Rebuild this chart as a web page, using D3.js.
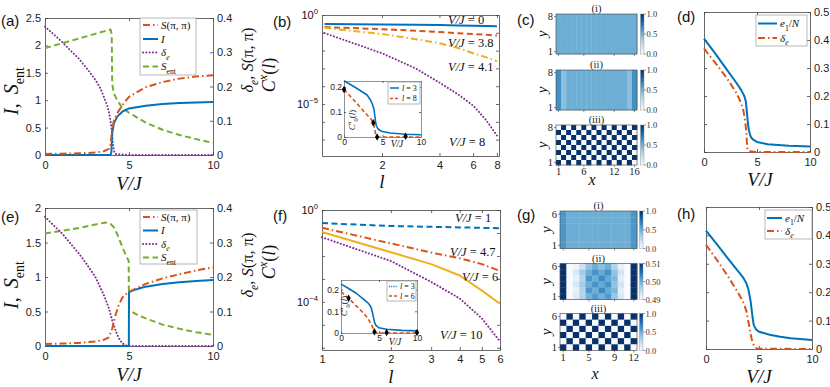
<!DOCTYPE html>
<html>
<head>
<meta charset="utf-8">
<script src="https://cdn.jsdelivr.net/npm/d3@7"></script>
<style>
  body { margin: 0; background: #fff; }
  svg { display: block; }
</style>
</head>
<body>
<svg id="fig" width="830" height="387"></svg>
<script>
(function figureModule() {

  'use strict';

  // ---- data: panel (a), U-type, 8x16 ----
  var aVS = [0, 1, 2, 3, 3.5, 3.8, 3.9, 4.0, 4.1, 4.3, 4.6, 5, 6, 7, 8, 9, 10];
  var aS = [0.003, 0.004, 0.005, 0.007, 0.011, 0.018, 0.03, 0.075, 0.1, 0.122, 0.145, 0.17, 0.198, 0.213, 0.223, 0.229, 0.233];
  var aVI = [0, 3.9, 3.95, 4.0, 4.1, 4.3, 4.6, 5, 6, 7, 8, 9, 10];
  var aI = [0, 0, 0.05, 0.4, 0.58, 0.7, 0.79, 0.85, 0.9, 0.93, 0.95, 0.96, 0.965];
  var aVD = [0, 0.5, 1, 1.5, 2, 2.5, 3, 3.3, 3.5, 3.7, 3.8, 3.9, 4.0, 4.05, 4.1, 4.2, 5, 10];
  var aD = [0.375, 0.353, 0.331, 0.306, 0.282, 0.252, 0.219, 0.195, 0.17, 0.145, 0.126, 0.1, 0.064, 0.03, 0.012, 0.003, 0, 0];
  var aVE = [0, 3.9, 3.97, 4.0, 4.1, 4.3, 4.6, 5, 6, 7, 8, 9, 10];
  var aE = [1.95, 2.29, 2.2, 1.3, 1.12, 1.0, 0.86, 0.77, 0.59, 0.46, 0.365, 0.29, 0.22];

  // ---- data: panel (e) ----
  var eVS = [0, 1, 2, 3, 3.5, 3.8, 4.0, 4.2, 4.4, 4.6, 4.8, 5, 6, 7, 8, 9, 10];
  var eS = [0.006, 0.007, 0.009, 0.013, 0.018, 0.025, 0.05, 0.09, 0.12, 0.14, 0.15, 0.157, 0.18, 0.196, 0.208, 0.219, 0.228];
  var eVI = [0, 4.99, 5.0, 5.3, 5.7, 6, 7, 8, 9, 10];
  var eI = [0, 0, 0.78, 0.81, 0.84, 0.86, 0.9, 0.925, 0.942, 0.955];
  var eVD = [0, 0.5, 1, 1.5, 2, 2.5, 3, 3.5, 3.8, 4.0, 4.2, 4.4, 4.6, 4.8, 5, 10];
  var eD = [0.375, 0.35, 0.327, 0.298, 0.269, 0.236, 0.2, 0.148, 0.11, 0.075, 0.045, 0.022, 0.008, 0.002, 0, 0];
  var eVE = [0, 1, 2, 3, 3.6, 3.9, 4.1, 4.3, 4.5, 4.7, 4.9, 4.98, 5.0, 5.5, 6, 7, 8, 9, 10];
  var eE = [1.63, 1.67, 1.71, 1.76, 1.79, 1.77, 1.72, 1.62, 1.5, 1.38, 1.27, 1.24, 0.52, 0.45, 0.4, 0.31, 0.25, 0.2, 0.16];

  // ---- data: panels (d), (h) ----
  var dVE = [0, 1, 2, 3, 3.5, 3.8, 3.95, 4.05, 4.15, 4.25, 4.4, 4.6, 5, 6, 7, 8, 10];
  var dE = [0.405, 0.355, 0.302, 0.25, 0.222, 0.2, 0.18, 0.14, 0.1, 0.075, 0.055, 0.045, 0.036, 0.028, 0.025, 0.022, 0.02];
  var dVD = [0, 0.5, 1, 1.5, 2, 2.5, 3, 3.3, 3.5, 3.7, 3.8, 3.9, 4.0, 4.05, 4.1, 4.2, 5, 10];
  var dD = [0.37, 0.345, 0.322, 0.297, 0.272, 0.244, 0.214, 0.192, 0.174, 0.15, 0.13, 0.105, 0.068, 0.032, 0.012, 0.003, 0, 0];
  var hVE = [0, 1, 2, 3, 3.5, 3.8, 4.0, 4.2, 4.3, 4.4, 4.5, 4.7, 5, 6, 7, 8, 10];
  var hE = [0.417, 0.37, 0.322, 0.275, 0.252, 0.232, 0.21, 0.17, 0.14, 0.11, 0.085, 0.07, 0.061, 0.05, 0.043, 0.038, 0.032];
  var hVD = [0, 1, 2, 3, 3.5, 3.8, 4.0, 4.2, 4.3, 4.4, 4.6, 4.8, 5, 10];
  var hD = [0.367, 0.315, 0.26, 0.2, 0.166, 0.135, 0.096, 0.055, 0.037, 0.022, 0.008, 0.002, 0.001, 0];

  // ---- data: panels (b), (f) correlations vs l ----
  var lB = [1, 2, 3, 4, 5, 6, 7, 8];
  var bV0 = [0.31, 0.29, 0.28, 0.27, 0.26, 0.25, 0.24, 0.23];
  var bV38 = [0.21, 0.16, 0.13, 0.11, 0.095, 0.085, 0.077, 0.07];
  var bV41 = [0.19, 0.085, 0.044, 0.026, 0.014, 0.0071, 0.0043, 0.0025];
  var bV8 = [0.096, 0.0071, 0.001, 1.6e-4, 3.5e-5, 8.3e-6, 1.3e-6, 1.7e-7];
  var lF = [1, 2, 3, 4, 5, 6];
  var fV1 = [0.27, 0.2, 0.185, 0.175, 0.167, 0.16];
  var fV47 = [0.17, 0.035, 0.014, 0.0079, 0.0044, 0.0022];
  var fV6 = [0.11, 0.0145, 0.0044, 0.0014, 3.1e-4, 8.3e-5];
  var fV10 = [0.065, 0.006, 7.4e-4, 1.4e-4, 1.9e-5, 1.9e-6];

  // insets
  var ibV1 = [0, 1, 2, 3, 3.5, 3.7, 3.9, 4.0, 4.1, 4.2, 4.4, 4.7, 5, 6, 8, 10];
  var ibL3 = [0.225, 0.207, 0.188, 0.168, 0.145, 0.13, 0.11, 0.085, 0.06, 0.045, 0.033, 0.026, 0.022, 0.016, 0.011, 0.009];
  var ibV2 = [0, 1, 2, 3, 3.5, 3.8, 4.0, 4.1, 4.2, 4.4, 10];
  var ibL8 = [0.19, 0.157, 0.123, 0.088, 0.072, 0.057, 0.03, 0.012, 0.003, 0, 0];
  var ibMV = [0, 3.8, 4.3, 8];
  var ibMC = [0.19, 0.057, 0, 0.003];
  var ifV1 = [0, 1, 2, 3, 3.5, 3.8, 4.0, 4.2, 4.4, 4.6, 5, 6, 8, 10];
  var ifL3 = [0.225, 0.205, 0.183, 0.155, 0.14, 0.128, 0.113, 0.085, 0.05, 0.035, 0.024, 0.017, 0.012, 0.01];
  var ifV2 = [0, 1, 2, 3, 3.5, 4.0, 4.3, 4.5, 5, 10];
  var ifL6 = [0.19, 0.16, 0.125, 0.09, 0.07, 0.04, 0.015, 0.004, 0, 0];
  var ifMV = [1, 4.4, 6, 10];
  var ifMC = [0.16, 0.006, 0.002, 0.002];

  // ---- data: heatmaps, rows listed from top (largest y) to bottom ----
  var cMapI = [
    [0.5, 0.5, 0.5, 0.5, 0.5, 0.5, 0.5, 0.5, 0.5, 0.5, 0.5, 0.5, 0.5, 0.5, 0.5, 0.5],
    [0.5, 0.5, 0.5, 0.5, 0.5, 0.5, 0.5, 0.5, 0.5, 0.5, 0.5, 0.5, 0.5, 0.5, 0.5, 0.5],
    [0.5, 0.5, 0.5, 0.5, 0.5, 0.5, 0.5, 0.5, 0.5, 0.5, 0.5, 0.5, 0.5, 0.5, 0.5, 0.5],
    [0.5, 0.5, 0.5, 0.5, 0.5, 0.5, 0.5, 0.5, 0.5, 0.5, 0.5, 0.5, 0.5, 0.5, 0.5, 0.5],
    [0.5, 0.5, 0.5, 0.5, 0.5, 0.5, 0.5, 0.5, 0.5, 0.5, 0.5, 0.5, 0.5, 0.5, 0.5, 0.5],
    [0.5, 0.5, 0.5, 0.5, 0.5, 0.5, 0.5, 0.5, 0.5, 0.5, 0.5, 0.5, 0.5, 0.5, 0.5, 0.5],
    [0.5, 0.5, 0.5, 0.5, 0.5, 0.5, 0.5, 0.5, 0.5, 0.5, 0.5, 0.5, 0.5, 0.5, 0.5, 0.5],
    [0.5, 0.5, 0.5, 0.5, 0.5, 0.5, 0.5, 0.5, 0.5, 0.5, 0.5, 0.5, 0.5, 0.5, 0.5, 0.5]
  ];
  var cMapII = [
    [0.63, 0.42, 0.5, 0.5, 0.5, 0.5, 0.5, 0.5, 0.5, 0.5, 0.5, 0.5, 0.5, 0.5, 0.42, 0.63],
    [0.63, 0.42, 0.5, 0.5, 0.5, 0.5, 0.5, 0.5, 0.5, 0.5, 0.5, 0.5, 0.5, 0.5, 0.42, 0.63],
    [0.63, 0.42, 0.5, 0.5, 0.5, 0.5, 0.5, 0.5, 0.5, 0.5, 0.5, 0.5, 0.5, 0.5, 0.42, 0.63],
    [0.63, 0.42, 0.5, 0.5, 0.5, 0.5, 0.5, 0.5, 0.5, 0.5, 0.5, 0.5, 0.5, 0.5, 0.42, 0.63],
    [0.63, 0.42, 0.5, 0.5, 0.5, 0.5, 0.5, 0.5, 0.5, 0.5, 0.5, 0.5, 0.5, 0.5, 0.42, 0.63],
    [0.63, 0.42, 0.5, 0.5, 0.5, 0.5, 0.5, 0.5, 0.5, 0.5, 0.5, 0.5, 0.5, 0.5, 0.42, 0.63],
    [0.63, 0.42, 0.5, 0.5, 0.5, 0.5, 0.5, 0.5, 0.5, 0.5, 0.5, 0.5, 0.5, 0.5, 0.42, 0.63],
    [0.63, 0.42, 0.5, 0.5, 0.5, 0.5, 0.5, 0.5, 0.5, 0.5, 0.5, 0.5, 0.5, 0.5, 0.42, 0.63]
  ];
  var cMapIII = [
    [0, 1, 0, 1, 0, 1, 0, 1, 0, 1, 0, 1, 0, 1, 0, 1],
    [1, 0, 1, 0, 1, 0, 1, 0, 1, 0, 1, 0, 1, 0, 1, 0],
    [0, 1, 0, 1, 0, 1, 0, 1, 0, 1, 0, 1, 0, 1, 0, 1],
    [1, 0, 1, 0, 1, 0, 1, 0, 1, 0, 1, 0, 1, 0, 1, 0],
    [0, 1, 0, 1, 0, 1, 0, 1, 0, 1, 0, 1, 0, 1, 0, 1],
    [1, 0, 1, 0, 1, 0, 1, 0, 1, 0, 1, 0, 1, 0, 1, 0],
    [0, 1, 0, 1, 0, 1, 0, 1, 0, 1, 0, 1, 0, 1, 0, 1],
    [1, 0, 1, 0, 1, 0, 1, 0, 1, 0, 1, 0, 1, 0, 1, 0]
  ];
  var gMapI = [
    [0.6, 0.5, 0.5, 0.5, 0.5, 0.5, 0.5, 0.5, 0.5, 0.5, 0.5, 0.6],
    [0.6, 0.5, 0.5, 0.5, 0.5, 0.5, 0.5, 0.5, 0.5, 0.5, 0.5, 0.6],
    [0.6, 0.5, 0.5, 0.5, 0.5, 0.5, 0.5, 0.5, 0.5, 0.5, 0.5, 0.6],
    [0.6, 0.5, 0.5, 0.5, 0.5, 0.5, 0.5, 0.5, 0.5, 0.5, 0.5, 0.6],
    [0.6, 0.5, 0.5, 0.5, 0.5, 0.5, 0.5, 0.5, 0.5, 0.5, 0.5, 0.6],
    [0.6, 0.5, 0.5, 0.5, 0.5, 0.5, 0.5, 0.5, 0.5, 0.5, 0.5, 0.6]
  ];
  var gMapII = [
    [0.51, 0.49, 0.491, 0.494, 0.498, 0.5, 0.4984, 0.5, 0.496, 0.4916, 0.49, 0.51],
    [0.51, 0.49, 0.493, 0.497, 0.5, 0.5024, 0.5004, 0.5024, 0.498, 0.4936, 0.49, 0.51],
    [0.51, 0.49, 0.4916, 0.496, 0.502, 0.5, 0.503, 0.5004, 0.499, 0.492, 0.49, 0.51],
    [0.51, 0.49, 0.493, 0.497, 0.5, 0.5024, 0.5004, 0.5024, 0.498, 0.4936, 0.49, 0.51],
    [0.51, 0.49, 0.4916, 0.496, 0.502, 0.5, 0.503, 0.5004, 0.499, 0.492, 0.49, 0.51],
    [0.51, 0.49, 0.4924, 0.496, 0.4996, 0.5016, 0.4996, 0.5016, 0.4976, 0.493, 0.49, 0.51]
  ];
  var gMapIII = [
    [0, 1, 0, 1, 0, 1, 0, 1, 0, 1, 0, 1],
    [1, 0, 1, 0, 1, 0, 1, 0, 1, 0, 1, 0],
    [0, 1, 0, 1, 0, 1, 0, 1, 0, 1, 0, 1],
    [1, 0, 1, 0, 1, 0, 1, 0, 1, 0, 1, 0],
    [0, 1, 0, 1, 0, 1, 0, 1, 0, 1, 0, 1],
    [1, 0, 1, 0, 1, 0, 1, 0, 1, 0, 1, 0]
  ];

  // ---- styles ----
  var SANS = '"Liberation Sans", Arial, Helvetica, sans-serif';
  var SERIF = '"Liberation Serif", "DejaVu Serif", "Times New Roman", serif';
  var BLUE = '#0072BD', RED = '#D95319', YELLOW = '#EDB120', PURPLE = '#7E2F8E', GREEN = '#77AC30';
  var DASH = '6,3.5', DASHDOT = '7,3,1.5,3', DOT = '0.1,3.2';

  var svg = d3.select('#fig');

  // text with italic / sub / sup pieces
  function mtext(g, x, y, parts, fs, fam, anchor) {
    var t = g.append('text')
      .attr('x', x).attr('y', y)
      .attr('font-family', fam || SERIF)
      .attr('font-size', fs)
      .attr('text-anchor', anchor || 'start')
      .attr('fill', '#111');
    var shift = 0;
    parts.forEach(function (p) {
      var mode = p[1] || '';
      var s = t.append('tspan').text(p[0]);
      var target = mode.indexOf('sub') >= 0 ? fs * 0.3 : (mode.indexOf('sup') >= 0 ? -fs * 0.42 : 0);
      if (target !== shift) s.attr('dy', target - shift);
      shift = target;
      if (target !== 0) s.attr('font-size', fs * 0.7);
      if (mode.charAt(0) === 'i') s.attr('font-style', 'italic');
    });
    return t;
  }

  function vtext(g, x, y, parts, fs, fam) {
    var r = g.append('g').attr('transform', 'translate(' + x + ',' + y + ') rotate(-90)');
    return mtext(r, 0, 0, parts, fs, fam, 'middle');
  }

  function styleAxis(sel, fs, fam) {
    sel.attr('font-family', null).attr('font-size', null);
    sel.select('.domain').attr('stroke', '#444').attr('stroke-width', 0.8);
    sel.selectAll('.tick line').attr('stroke', '#444').attr('stroke-width', 0.8);
    sel.selectAll('.tick text').attr('font-family', fam || SANS).attr('font-size', fs).attr('fill', '#222');
  }

  function drawSeries(g, x, y, xs, ys, color, dash, width) {
    var line = d3.line()
      .x(function (d, i) { return x(xs[i]); })
      .y(function (d) { return y(d); });
    g.append('path')
      .datum(ys)
      .attr('d', line)
      .attr('fill', 'none')
      .attr('stroke', color)
      .attr('stroke-width', width || 2)
      .attr('stroke-dasharray', dash || null)
      .attr('stroke-linecap', dash === DOT ? 'round' : 'butt')
      .attr('stroke-linejoin', 'round');
  }

  function legend(g, box, rows, items, lx, fs) {
    g.append('rect')
      .attr('x', box[0]).attr('y', box[1])
      .attr('width', box[2] - box[0]).attr('height', box[3] - box[1])
      .attr('fill', '#fff').attr('stroke', '#999').attr('stroke-width', 0.7);
    items.forEach(function (it, i) {
      g.append('line')
        .attr('x1', lx[0]).attr('x2', lx[1]).attr('y1', rows[i]).attr('y2', rows[i])
        .attr('stroke', it.color).attr('stroke-width', it.width || 2)
        .attr('stroke-dasharray', it.dash || null)
        .attr('stroke-linecap', it.dash === DOT ? 'round' : 'butt');
      mtext(g, lx[1] + 3, rows[i] + fs * 0.35, it.label, fs);
    });
  }

  var fmt = d3.format('~g');

  function dualPanel(p) {
    var g = svg.append('g');
    var x = d3.scaleLinear().domain([0, 10]).range([p.L, p.R]);
    var yl = d3.scaleLinear().domain(p.ylDom).range([p.B, p.T]);
    var yr = d3.scaleLinear().domain(p.yrDom).range([p.B, p.T]);
    var axes = [
      [d3.axisBottom(x).tickValues([0, 5, 10]).tickFormat(fmt), 'translate(0,' + p.B + ')'],
      [d3.axisTop(x).tickValues([0, 5, 10]).tickFormat(''), 'translate(0,' + p.T + ')'],
      [d3.axisLeft(yl).tickValues(p.ylTicks).tickFormat(p.ylLabels ? fmt : ''), 'translate(' + p.L + ',0)'],
      [d3.axisRight(yr).tickValues(p.yrTicks).tickFormat(fmt), 'translate(' + p.R + ',0)']
    ];
    axes.forEach(function (a, i) {
      var s = g.append('g').attr('transform', a[1])
        .call(a[0].tickSizeInner(-3).tickSizeOuter(0).tickPadding(i === 0 ? 6 : 4));
      styleAxis(s, 11);
    });
    p.series.forEach(function (s) {
      drawSeries(g, x, s.right ? yr : yl, s.x, s.y, s.color, s.dash);
    });
    return g;
  }

  function logPanel(p) {
    var g = svg.append('g');
    var x = d3.scaleLog().domain(p.xDom).range([p.L, p.R]);
    var y = d3.scaleLog().domain(p.yDom).range([p.B, p.T]);
    var axes = [
      [d3.axisBottom(x).tickValues(p.xTicks).tickFormat(d3.format('d')), 'translate(0,' + p.B + ')'],
      [d3.axisTop(x).tickValues(p.xTicks).tickFormat(''), 'translate(0,' + p.T + ')'],
      [d3.axisLeft(y).tickValues(p.yTicks).tickFormat(''), 'translate(' + p.L + ',0)'],
      [d3.axisRight(y).tickValues(p.yTicks).tickFormat(''), 'translate(' + p.R + ',0)']
    ];
    axes.forEach(function (a) {
      var s = g.append('g').attr('transform', a[1])
        .call(a[0].tickSizeInner(-3).tickSizeOuter(0).tickPadding(5));
      styleAxis(s, 11);
    });
    p.yLabels.forEach(function (e) {
      mtext(g, p.L - 4, y(Math.pow(10, e)) + 4, [['10'], [String(e).replace('-', '\u2212'), 'sup']], 11, SANS, 'end');
    });
    p.series.forEach(function (s) {
      drawSeries(g, x, y, p.l, s.y, s.color, s.dash);
    });
    p.notes.forEach(function (n) {
      mtext(g, n[0], n[1], [['V/J', 'i'], [' = ' + n[2]]], 12.5);
    });
    return g;
  }

  function inset(p) {
    var g = svg.append('g');
    g.append('rect').attr('x', p.L).attr('y', p.T)
      .attr('width', p.R - p.L).attr('height', p.B - p.T).attr('fill', '#fff');
    var x = d3.scaleLinear().domain([0, 10]).range([p.L, p.R]);
    var y = d3.scaleLinear().domain([0, p.yMax]).range([p.B, p.T]);
    var axes = [
      [d3.axisBottom(x).tickValues([0, 5, 10]).tickFormat(fmt), 'translate(0,' + p.B + ')'],
      [d3.axisTop(x).tickValues([0, 5, 10]).tickFormat(''), 'translate(0,' + p.T + ')'],
      [d3.axisLeft(y).tickValues([0, 0.1, 0.2]).tickFormat(fmt), 'translate(' + p.L + ',0)'],
      [d3.axisRight(y).tickValues([0, 0.1, 0.2]).tickFormat(''), 'translate(' + p.R + ',0)']
    ];
    axes.forEach(function (a) {
      var s = g.append('g').attr('transform', a[1])
        .call(a[0].tickSizeInner(-2).tickSizeOuter(0).tickPadding(2));
      styleAxis(s, 8.5);
      s.select('.domain').attr('stroke', '#777');
    });
    p.series.forEach(function (s) {
      drawSeries(g, x, y, s.x, s.y, s.color, s.dash, 1.6);
    });
    g.selectAll('path.mk')
      .data(p.mV)
      .enter().append('path')
      .attr('class', 'mk')
      .attr('d', d3.symbol().type(d3.symbolDiamond).size(16))
      .attr('transform', function (d, i) { return 'translate(' + x(d) + ',' + y(p.mC[i]) + ')'; })
      .attr('fill', '#000');
    legend(g, p.legBox, p.legRows, p.legItems, p.legLine, 8);
    mtext(g, p.vjPos[0], p.vjPos[1], [['V/J', 'i']], 9.5, SERIF, 'middle');
    vtext(g, p.cPos[0], p.cPos[1], [['C', 'i'], ['x', 'isup'], ['0', 'sub'], ['('], ['l', 'i'], [')']], 9);
    return g;
  }

  // ---------- panels (a), (e) ----------
  var legA = [
    { color: RED, dash: DASHDOT, label: [['S', 'i'], ['(\u03C0, \u03C0)']] },
    { color: BLUE, label: [['I', 'i']] },
    { color: PURPLE, dash: DOT, label: [['\u03B4', 'i'], ['e', 'isub']] },
    { color: GREEN, dash: DASH, label: [['S', 'i'], ['ent', 'sub']] }
  ];

  var ga = dualPanel({
    L: 45, R: 213, T: 18, B: 155,
    ylDom: [0, 2.5], yrDom: [0, 0.4],
    ylTicks: [0, 0.5, 1, 1.5, 2, 2.5], yrTicks: [0, 0.1, 0.2, 0.3, 0.4], ylLabels: true,
    series: [
      { x: aVE, y: aE, color: GREEN, dash: DASH },
      { x: aVD, y: aD, color: PURPLE, dash: DOT, right: true },
      { x: aVI, y: aI, color: BLUE },
      { x: aVS, y: aS, color: RED, dash: DASHDOT, right: true }
    ]
  });
  legend(ga, [140, 18, 196, 75], [25, 39, 52.5, 66.5], legA, [143, 158], 11);

  var ge = dualPanel({
    L: 45, R: 213, T: 208, B: 346,
    ylDom: [0, 2], yrDom: [0, 0.4],
    ylTicks: [0, 0.5, 1, 1.5, 2], yrTicks: [0, 0.1, 0.2, 0.3, 0.4], ylLabels: true,
    series: [
      { x: eVE, y: eE, color: GREEN, dash: DASH },
      { x: eVD, y: eD, color: PURPLE, dash: DOT, right: true },
      { x: eVI, y: eI, color: BLUE },
      { x: eVS, y: eS, color: RED, dash: DASHDOT, right: true }
    ]
  });
  legend(ge, [140, 210, 197, 264], [217, 230.5, 244, 257.5], legA, [143, 158], 11);

  // ---------- panels (d), (h) ----------
  var legD = [
    { color: BLUE, label: [['e', 'i'], ['1', 'sub'], ['/'], ['N', 'i']] },
    { color: RED, dash: DASHDOT, label: [['\u03B4', 'i'], ['e', 'isub']] }
  ];
  var gd = dualPanel({
    L: 704, R: 810, T: 12, B: 152,
    ylDom: [0, 0.5], yrDom: [0, 0.5],
    ylTicks: [0, 0.1, 0.2, 0.3, 0.4, 0.5], yrTicks: [0, 0.1, 0.2, 0.3, 0.4, 0.5], ylLabels: false,
    series: [
      { x: dVD, y: dD, color: RED, dash: DASHDOT },
      { x: dVE, y: dE, color: BLUE }
    ]
  });
  legend(gd, [756, 15, 807, 46], [23.5, 38], legD, [758, 777], 11);

  var gh = dualPanel({
    L: 706, R: 812, T: 207, B: 349,
    ylDom: [0, 0.5], yrDom: [0, 0.5],
    ylTicks: [0, 0.1, 0.2, 0.3, 0.4, 0.5], yrTicks: [0, 0.1, 0.2, 0.3, 0.4, 0.5], ylLabels: false,
    series: [
      { x: hVD, y: hD, color: RED, dash: DASHDOT },
      { x: hVE, y: hE, color: BLUE }
    ]
  });
  legend(gh, [765, 210, 812, 239], [218, 231], legD, [767, 782], 11);

  // ---------- panels (b), (f) ----------
  logPanel({
    L: 322, R: 499, T: 15, B: 156,
    xDom: [0.97, 8.2], yDom: [1.2e-8, 1], xTicks: [2, 4, 6, 8],
    yTicks: [1e-7, 1e-6, 1e-5, 1e-4, 1e-3, 1e-2, 1e-1, 1], yLabels: [0, -5],
    l: lB,
    series: [
      { y: bV0, color: BLUE },
      { y: bV38, color: RED, dash: DASH },
      { y: bV41, color: YELLOW, dash: DASHDOT },
      { y: bV8, color: PURPLE, dash: DOT }
    ],
    notes: [[448, 24, '0'], [448, 47, '3.8'], [448, 71, '4.1'], [449, 146, '8']]
  });
  inset({
    L: 344, R: 421, T: 81, B: 137, yMax: 0.224,
    series: [
      { x: ibV1, y: ibL3, color: BLUE },
      { x: ibV2, y: ibL8, color: RED, dash: '4,2.5' }
    ],
    mV: ibMV, mC: ibMC,
    legBox: [388, 82, 420, 104], legRows: [88, 98.5], legLine: [390, 399],
    legItems: [
      { color: BLUE, width: 1.5, label: [['l', 'i'], [' = 3']] },
      { color: RED, width: 1.5, dash: '3,2', label: [['l', 'i'], [' = 8']] }
    ],
    vjPos: [397, 147], cPos: [355, 120]
  });

  logPanel({
    L: 322, R: 500, T: 210, B: 350,
    xDom: [1, 6], yDom: [8e-7, 1], xTicks: [1, 2, 3, 4, 5, 6],
    yTicks: [1e-6, 1e-5, 1e-4, 1e-3, 1e-2, 1e-1, 1], yLabels: [0, -4],
    l: lF,
    series: [
      { y: fV1, color: BLUE, dash: DASH },
      { y: fV47, color: RED, dash: DASHDOT },
      { y: fV6, color: YELLOW },
      { y: fV10, color: PURPLE, dash: DOT }
    ],
    notes: [[455, 222, '1'], [450, 256, '4.7'], [462, 281, '6'], [440, 339, '10']]
  });
  inset({
    L: 341, R: 417, T: 280, B: 333, yMax: 0.244,
    series: [
      { x: ifV1, y: ifL3, color: BLUE },
      { x: ifV2, y: ifL6, color: RED, dash: '4,2.5' }
    ],
    mV: ifMV, mC: ifMC,
    legBox: [387, 281, 416, 301], legRows: [286.5, 296], legLine: [389, 397],
    legItems: [
      { color: BLUE, width: 1.5, dash: '1,1.2', label: [['l', 'i'], [' = 3']] },
      { color: RED, width: 1.5, dash: '3,2', label: [['l', 'i'], [' = 6']] }
    ],
    vjPos: [395, 345], cPos: [347, 306]
  });

  // ---------- heatmaps (c), (g) ----------
  var gradN = 0;
  function heatmap(p) {
    var g = svg.append('g');
    var nr = p.rows.length, nc = p.rows[0].length;
    var x = d3.scaleBand().domain(d3.range(nc)).range([p.x0, p.x1]);
    var y = d3.scaleBand().domain(d3.range(nr)).range([p.y0, p.y1]);
    var col = d3.scaleSequential(d3.interpolateBlues).domain(p.dom);
    p.rows.forEach(function (row, r) {
      g.selectAll(null)
        .data(row)
        .enter().append('rect')
        .attr('x', function (d, c) { return x(c); })
        .attr('y', y(r))
        .attr('width', x.bandwidth() + 0.3)
        .attr('height', y.bandwidth() + 0.3)
        .attr('fill', function (d) { return col(d); });
    });
    g.append('rect').attr('x', p.x0).attr('y', p.y0)
      .attr('width', p.x1 - p.x0).attr('height', p.y1 - p.y0)
      .attr('fill', 'none').attr('stroke', '#555').attr('stroke-width', 0.7);
    // ticks
    p.xTicks.forEach(function (c) {
      var cx = x(c - 1) + x.bandwidth() / 2;
      g.append('line').attr('x1', cx).attr('x2', cx).attr('y1', p.y1).attr('y2', p.y1 + 2)
        .attr('stroke', '#555').attr('stroke-width', 0.7);
      if (p.xLabels) {
        g.append('text').attr('x', cx).attr('y', p.y1 + 10).attr('text-anchor', 'middle')
          .attr('font-family', SERIF).attr('font-size', 10.5).attr('fill', '#222').text(c);
      }
    });
    [0, nr - 1].forEach(function (r) {
      var cy = y(r) + y.bandwidth() / 2;
      g.append('line').attr('x1', p.x0 - 2).attr('x2', p.x0).attr('y1', cy).attr('y2', cy)
        .attr('stroke', '#555').attr('stroke-width', 0.7);
      g.append('text').attr('x', p.x0 - 3).attr('y', cy + 3.5).attr('text-anchor', 'end')
        .attr('font-family', SERIF).attr('font-size', 10.5).attr('fill', '#222')
        .text(r === 0 ? nr : 1);
    });
    vtext(g, p.x0 - 9, (p.y0 + p.y1) / 2, [['y', 'i']], 15);
    g.append('text').attr('x', (p.x0 + p.x1) / 2).attr('y', p.y0 - 2).attr('text-anchor', 'middle')
      .attr('font-family', SERIF).attr('font-size', 10.5).attr('fill', '#222').text(p.title);
    // colorbar
    var id = 'cb' + (gradN++);
    var grad = svg.append('defs').append('linearGradient').attr('id', id)
      .attr('x1', 0).attr('y1', 1).attr('x2', 0).attr('y2', 0);
    d3.range(0, 1.001, 0.1).forEach(function (t) {
      grad.append('stop').attr('offset', t).attr('stop-color', d3.interpolateBlues(t));
    });
    g.append('rect').attr('x', p.cbx).attr('y', p.y0).attr('width', 3.5).attr('height', p.y1 - p.y0)
      .attr('fill', 'url(#' + id + ')').attr('stroke', '#888').attr('stroke-width', 0.4);
    var cs = d3.scaleLinear().domain(p.dom).range([p.y1, p.y0]);
    p.cbTicks.forEach(function (v, i) {
      g.append('line').attr('x1', p.cbx + 3.5).attr('x2', p.cbx + 5.5).attr('y1', cs(v)).attr('y2', cs(v))
        .attr('stroke', '#555').attr('stroke-width', 0.6);
      g.append('text').attr('x', p.cbx + 6).attr('y', cs(v) + 3)
        .attr('font-family', SERIF).attr('font-size', 8.5).attr('fill', '#333').text(p.cbLabels[i]);
    });
    return g;
  }

  var cTicks = [1, 6, 12, 16];
  heatmap({ rows: cMapI, x0: 556, x1: 637, y0: 14, y1: 54, dom: [0, 1], title: '(i)', xTicks: cTicks, xLabels: false,
    cbx: 640.5, cbTicks: [1, 0.5, 0], cbLabels: ['1.0', '0.5', '0.0'] });
  heatmap({ rows: cMapII, x0: 556, x1: 637, y0: 70, y1: 110, dom: [0, 1], title: '(ii)', xTicks: cTicks, xLabels: false,
    cbx: 640.5, cbTicks: [1, 0.5, 0], cbLabels: ['1.0', '0.5', '0.0'] });
  heatmap({ rows: cMapIII, x0: 556, x1: 637, y0: 125, y1: 165, dom: [0, 1], title: '(iii)', xTicks: cTicks, xLabels: true,
    cbx: 640.5, cbTicks: [1, 0.5, 0], cbLabels: ['1.0', '0.5', '0.0'] });

  var gTicks = [1, 5, 9, 12];
  heatmap({ rows: gMapI, x0: 560, x1: 637, y0: 211, y1: 248.5, dom: [0, 1], title: '(i)', xTicks: gTicks, xLabels: false,
    cbx: 639.5, cbTicks: [1, 0.5, 0], cbLabels: ['1.0', '0.5', '0.0'] });
  heatmap({ rows: gMapII, x0: 560, x1: 637, y0: 263.5, y1: 299.5, dom: [0.49, 0.51], title: '(ii)', xTicks: gTicks, xLabels: false,
    cbx: 639.5, cbTicks: [0.51, 0.5, 0.49], cbLabels: ['0.51', '0.50', '0.49'] });
  heatmap({ rows: gMapIII, x0: 560, x1: 637, y0: 313.5, y1: 350.5, dom: [0, 1], title: '(iii)', xTicks: gTicks, xLabels: true,
    cbx: 639.5, cbTicks: [1, 0.5, 0], cbLabels: ['1.0', '0.5', '0.0'] });

  // ---------- axis titles and panel letters ----------
  var labels = svg.append('g');
  [[129, 190], [129, 381], [760, 186], [759, 383]].forEach(function (p) {
    mtext(labels, p[0], p[1], [['V/J', 'i']], 19, SERIF, 'middle');
  });
  mtext(labels, 382, 188, [['l', 'i']], 19, SERIF, 'middle');
  mtext(labels, 391, 383, [['l', 'i']], 19, SERIF, 'middle');
  mtext(labels, 592, 185, [['x', 'i']], 16, SERIF, 'middle');
  mtext(labels, 595, 379, [['x', 'i']], 16, SERIF, 'middle');

  var yLeft = [['I', 'i'], [',\u2009 '], ['S', 'i'], ['ent', 'sub']];
  var yRight = [['\u03B4', 'i'], ['e', 'isub'], [', '], ['S', 'i'], ['(\u03C0, \u03C0)']];
  var yC = [['C', 'i'], ['x', 'isup'], ['('], ['l', 'i'], [')']];
  vtext(labels, 18, 91, yLeft, 20);
  vtext(labels, 18, 285, yLeft, 20);
  vtext(labels, 253, 60, yRight, 16.5);
  vtext(labels, 253, 265, yRight, 16.5);
  vtext(labels, 275, 75, yC, 18);
  vtext(labels, 275, 262, yC, 18);

  [['(a)', 1, 26], ['(b)', 273, 27], ['(c)', 517, 25], ['(d)', 677, 22],
   ['(e)', 1, 222], ['(f)', 273, 221], ['(g)', 517, 220], ['(h)', 677, 219]].forEach(function (p) {
    labels.append('text').attr('x', p[1]).attr('y', p[2])
      .attr('font-family', SANS).attr('font-size', 15).attr('fill', '#111').text(p[0]);
  });

})();
</script>
</body>
</html>
